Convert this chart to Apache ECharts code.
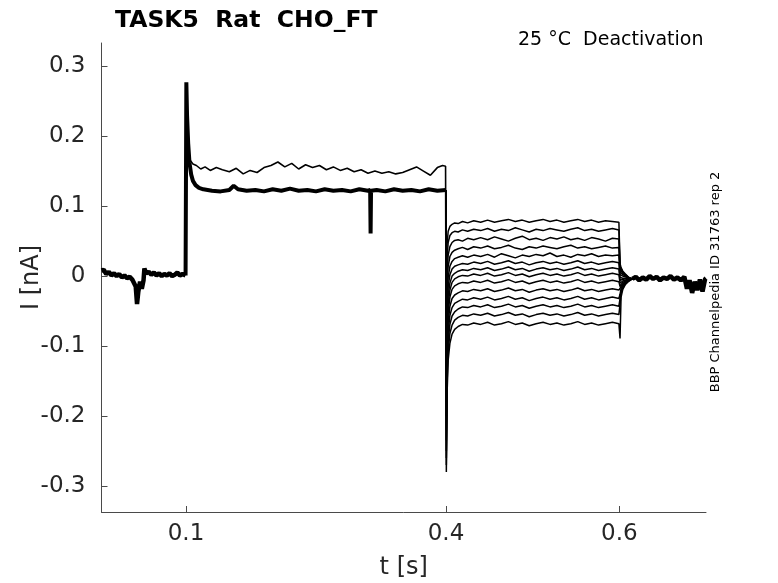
<!DOCTYPE html>
<html>
<head>
<meta charset="utf-8">
<script src="https://cdn.jsdelivr.net/npm/echarts@6/dist/echarts.min.js"></script>
<style>
  html, body { margin: 0; padding: 0; background: #fff; }
  #mainChart { width: 778px; height: 583px; }
</style>
</head>
<body>
<div id="mainChart"></div>
<script>
// tick positions
const xTicks = [0.1, 0.4, 0.6];
const yTicks = [-0.3, -0.2, -0.1, 0, 0.1, 0.2, 0.3];

// holding period before the step (all sweeps overlap)
const baseT = [0.0025, 0.005, 0.008, 0.011, 0.014, 0.017, 0.02, 0.023, 0.026, 0.029, 0.032, 0.035, 0.038, 0.040, 0.042, 0.0435, 0.045, 0.047, 0.049, 0.051, 0.052, 0.054, 0.057, 0.06, 0.063, 0.066, 0.069, 0.072, 0.075, 0.078, 0.081, 0.084, 0.087, 0.09, 0.093, 0.096, 0.0995];
const baseV = [0.008, 0.009, 0.003, 0.006, 0.001, 0.004, 0.0, 0.003, -0.002, 0.001, -0.003, -0.001, -0.005, -0.004, -0.015, -0.040, -0.022, -0.008, -0.018, -0.006, 0.011, 0.004, 0.006, 0.002, 0.005, 0.001, 0.004, 0.0, 0.003, 0.001, 0.004, 0.0, 0.002, 0.005, 0.001, 0.003, 0.001];

// activating pulse, main bundle of sweeps
const pulseT = [0.0995, 0.1, 0.1004, 0.1012, 0.1025, 0.104, 0.106, 0.108, 0.111, 0.115, 0.12, 0.13, 0.14, 0.15, 0.155, 0.16, 0.17, 0.18, 0.19, 0.2, 0.21, 0.22, 0.23, 0.24, 0.25, 0.26, 0.27, 0.28, 0.29, 0.3, 0.31, 0.3125, 0.313, 0.3135, 0.32, 0.33, 0.34, 0.35, 0.36, 0.37, 0.38, 0.39, 0.3998];
const pulseV = [0.001, 0.15, 0.277, 0.23, 0.19, 0.162, 0.145, 0.136, 0.13, 0.126, 0.124, 0.122, 0.121, 0.123, 0.129, 0.124, 0.122, 0.123, 0.121, 0.124, 0.122, 0.125, 0.122, 0.123, 0.121, 0.124, 0.122, 0.123, 0.121, 0.124, 0.122, 0.123, 0.061, 0.122, 0.123, 0.121, 0.124, 0.122, 0.123, 0.121, 0.124, 0.122, 0.123];

// activating pulse, the one sweep running higher
const upperT = [0.1, 0.1004, 0.101, 0.102, 0.103, 0.105, 0.108, 0.112, 0.117, 0.122, 0.128, 0.135, 0.142, 0.15, 0.158, 0.166, 0.174, 0.182, 0.19, 0.198, 0.206, 0.214, 0.222, 0.23, 0.238, 0.246, 0.254, 0.262, 0.27, 0.278, 0.286, 0.294, 0.302, 0.31, 0.318, 0.326, 0.334, 0.342, 0.35, 0.358, 0.366, 0.374, 0.382, 0.39, 0.396, 0.3995, 0.4];
const upperV = [0.002, 0.27, 0.22, 0.19, 0.175, 0.165, 0.16, 0.158, 0.153, 0.156, 0.151, 0.155, 0.152, 0.149, 0.154, 0.146, 0.151, 0.148, 0.155, 0.158, 0.163, 0.156, 0.161, 0.153, 0.159, 0.155, 0.158, 0.152, 0.156, 0.151, 0.154, 0.149, 0.152, 0.147, 0.15, 0.147, 0.149, 0.146, 0.148, 0.152, 0.156, 0.15, 0.144, 0.155, 0.158, 0.157, -0.05];

// deactivation steps (one row per sweep)
const deactT = [0.4, 0.4004, 0.4012, 0.4025, 0.4045, 0.407, 0.41, 0.414, 0.419, 0.425, 0.432, 0.44,
  0.448, 0.456, 0.464, 0.472, 0.48, 0.488, 0.496, 0.504, 0.512, 0.52, 0.528, 0.536, 0.544, 0.552, 0.56, 0.568, 0.576, 0.584, 0.592,
  0.5995, 0.6, 0.6008, 0.602, 0.604, 0.607, 0.611, 0.615];
const sweep01 = [0.123, -0.06, 0.045, 0.064, 0.071, 0.074, 0.076, 0.075, 0.078, 0.076, 0.079, 0.077, 0.080, 0.077, 0.079, 0.081, 0.078, 0.080, 0.077, 0.079, 0.081, 0.078, 0.080, 0.077, 0.079, 0.081, 0.078, 0.080, 0.077, 0.079, 0.078, 0.077, 0.077, 0.018, 0.012, 0.007, 0.003, -0.002, -0.004];
const sweep02 = [0.123, -0.08, 0.025, 0.048, 0.058, 0.062, 0.064, 0.063, 0.066, 0.064, 0.067, 0.065, 0.068, 0.064, 0.067, 0.065, 0.069, 0.066, 0.063, 0.067, 0.065, 0.068, 0.066, 0.064, 0.067, 0.069, 0.065, 0.067, 0.064, 0.066, 0.068, 0.066, 0.066, 0.014, 0.010, 0.006, 0.002, -0.002, -0.004];
const sweep03 = [0.123, -0.10, 0.005, 0.030, 0.042, 0.048, 0.051, 0.052, 0.050, 0.054, 0.052, 0.055, 0.052, 0.056, 0.053, 0.050, 0.054, 0.057, 0.052, 0.054, 0.051, 0.055, 0.053, 0.056, 0.052, 0.054, 0.051, 0.055, 0.053, 0.050, 0.054, 0.053, 0.053, 0.010, 0.008, 0.004, 0.001, -0.003, -0.004];
const sweep04 = [0.123, -0.12, -0.015, 0.014, 0.028, 0.034, 0.037, 0.039, 0.041, 0.038, 0.042, 0.040, 0.043, 0.039, 0.041, 0.044, 0.040, 0.038, 0.042, 0.040, 0.043, 0.041, 0.039, 0.042, 0.044, 0.040, 0.042, 0.039, 0.041, 0.043, 0.040, 0.041, 0.041, 0.006, 0.005, 0.002, 0.0, -0.003, -0.004];
const sweep05 = [0.123, -0.14, -0.035, -0.002, 0.014, 0.021, 0.025, 0.027, 0.029, 0.027, 0.030, 0.028, 0.031, 0.027, 0.032, 0.029, 0.026, 0.030, 0.028, 0.031, 0.029, 0.033, 0.028, 0.030, 0.027, 0.031, 0.029, 0.032, 0.028, 0.030, 0.029, 0.030, 0.030, 0.002, 0.002, 0.0, -0.001, -0.003, -0.004];
const sweep06 = [0.123, -0.16, -0.05, -0.015, 0.002, 0.010, 0.014, 0.016, 0.018, 0.017, 0.020, 0.018, 0.021, 0.017, 0.019, 0.022, 0.018, 0.020, 0.016, 0.019, 0.021, 0.018, 0.020, 0.017, 0.019, 0.022, 0.018, 0.020, 0.017, 0.019, 0.021, 0.019, 0.019, -0.002, -0.002, -0.003, -0.003, -0.004, -0.004];
const sweep07 = [0.123, -0.18, -0.065, -0.028, -0.010, 0.0, 0.004, 0.007, 0.009, 0.008, 0.011, 0.009, 0.012, 0.008, 0.010, 0.013, 0.009, 0.011, 0.007, 0.010, 0.012, 0.009, 0.011, 0.008, 0.010, 0.013, 0.009, 0.011, 0.008, 0.010, 0.012, 0.010, 0.010, -0.006, -0.005, -0.005, -0.004, -0.005, -0.004];
const sweep08 = [0.123, -0.20, -0.08, -0.04, -0.02, -0.009, -0.004, -0.001, 0.001, 0.0, 0.003, 0.001, 0.004, 0.0, 0.002, 0.005, 0.001, 0.003, -0.001, 0.002, 0.004, 0.001, 0.003, 0.0, 0.002, 0.005, 0.001, 0.003, 0.0, 0.002, 0.004, 0.002, 0.002, -0.010, -0.008, -0.007, -0.006, -0.005, -0.004];
const sweep09 = [0.123, -0.22, -0.095, -0.052, -0.03, -0.019, -0.014, -0.011, -0.009, -0.010, -0.007, -0.009, -0.006, -0.010, -0.008, -0.005, -0.009, -0.007, -0.011, -0.008, -0.006, -0.009, -0.007, -0.010, -0.008, -0.005, -0.009, -0.007, -0.010, -0.008, -0.006, -0.008, -0.008, -0.015, -0.012, -0.009, -0.007, -0.005, -0.004];
const sweep10 = [0.123, -0.235, -0.11, -0.066, -0.043, -0.032, -0.027, -0.024, -0.021, -0.022, -0.019, -0.021, -0.018, -0.022, -0.020, -0.017, -0.021, -0.019, -0.023, -0.020, -0.018, -0.021, -0.019, -0.022, -0.020, -0.017, -0.021, -0.019, -0.022, -0.020, -0.018, -0.020, -0.020, -0.020, -0.015, -0.011, -0.008, -0.006, -0.004];
const sweep11 = [0.123, -0.25, -0.125, -0.08, -0.056, -0.045, -0.039, -0.036, -0.033, -0.034, -0.031, -0.033, -0.030, -0.034, -0.032, -0.029, -0.033, -0.031, -0.035, -0.032, -0.030, -0.033, -0.031, -0.034, -0.032, -0.029, -0.033, -0.031, -0.034, -0.032, -0.030, -0.032, -0.032, -0.026, -0.018, -0.013, -0.009, -0.006, -0.004];
const sweep12 = [0.123, -0.26, -0.14, -0.093, -0.069, -0.057, -0.051, -0.047, -0.044, -0.045, -0.042, -0.044, -0.041, -0.045, -0.043, -0.040, -0.044, -0.042, -0.046, -0.043, -0.041, -0.044, -0.042, -0.045, -0.043, -0.040, -0.044, -0.042, -0.045, -0.043, -0.041, -0.043, -0.043, -0.032, -0.021, -0.015, -0.010, -0.006, -0.004];
const sweep13 = [0.123, -0.27, -0.155, -0.107, -0.082, -0.07, -0.063, -0.059, -0.056, -0.057, -0.054, -0.056, -0.053, -0.057, -0.055, -0.052, -0.056, -0.054, -0.058, -0.055, -0.053, -0.056, -0.054, -0.057, -0.055, -0.052, -0.056, -0.054, -0.057, -0.055, -0.053, -0.055, -0.055, -0.040, -0.024, -0.017, -0.011, -0.007, -0.004];
const sweep14 = [0.123, -0.28, -0.17, -0.12, -0.096, -0.083, -0.076, -0.072, -0.069, -0.070, -0.067, -0.069, -0.066, -0.070, -0.068, -0.065, -0.069, -0.067, -0.071, -0.068, -0.066, -0.069, -0.067, -0.070, -0.068, -0.065, -0.069, -0.067, -0.070, -0.068, -0.066, -0.068, -0.068, -0.089, -0.030, -0.019, -0.012, -0.007, -0.004];
const sweeps = [sweep01, sweep02, sweep03, sweep04, sweep05, sweep06, sweep07, sweep08, sweep09, sweep10, sweep11, sweep12, sweep13, sweep14];

// back at holding potential (all sweeps overlap)
const tailT = [0.615, 0.619, 0.623, 0.627, 0.631, 0.635, 0.639, 0.643, 0.647, 0.651, 0.655, 0.659, 0.663, 0.667, 0.671, 0.675, 0.678, 0.681, 0.684, 0.687, 0.69, 0.693, 0.696, 0.699, 0.7];
const tailV = [-0.004, -0.001, -0.006, -0.002, -0.005, 0.0, -0.004, -0.001, -0.006, -0.002, -0.004, 0.0, -0.005, -0.002, -0.006, -0.001, -0.018, -0.006, -0.024, -0.008, -0.02, -0.005, -0.022, -0.004, -0.003];

const pairs = (ts, vs) => ts.map((t, i) => [t, vs[i]]);
const line = (data, width) => ({
    type: 'line', data, showSymbol: false, symbol: 'none', silent: true,
    lineStyle: { color: '#000', width }, z: 3
});

const chart = echarts.init(document.getElementById('mainChart'), null, { renderer: 'canvas' });
const font = 'DejaVu Sans';
const axisCol = '#4a4a4a';

const option = {
    animation: false,
    backgroundColor: '#fff',
    title: {
        text: 'TASK5  Rat  CHO_FT', left: 110, top: 4,
        textStyle: { fontFamily: font, fontSize: 23.5, fontWeight: 'bold', color: '#000' }
    },
    graphic: [
        { type: 'text', left: 518, top: 31, style: { text: '25 °C  Deactivation', font: `19px "${font}"`, fill: '#000' } },
        { type: 'text', x: 716, y: 282, rotation: Math.PI / 2,
          style: { text: 'BBP Channelpedia ID 31763 rep 2', font: `13px "${font}"`, fill: '#000', align: 'center', verticalAlign: 'middle' } }
    ],
    grid: { left: 101.5, right: 72, top: 43, bottom: 71, outerBoundsMode: 'none' },
    xAxis: {
        type: 'value', min: 0.0025, max: 0.7,
        name: 't [s]', nameLocation: 'middle', nameGap: 44, nameMoveOverlap: false,
        nameTextStyle: { fontFamily: font, fontSize: 24, color: '#262626' },
        axisLine: { onZero: false, lineStyle: { color: axisCol, width: 1 } },
        axisTick: { inside: true, length: 6, customValues: xTicks, lineStyle: { color: axisCol } },
        axisLabel: { customValues: xTicks, margin: 11, fontFamily: font, fontSize: 23, color: '#262626',
                     formatter: v => v.toFixed(1) },
        splitLine: { show: false }
    },
    yAxis: {
        type: 'value', min: -0.337, max: 0.333,
        name: 'I [nA]', nameLocation: 'middle', nameGap: 58, nameRotate: 90, nameMoveOverlap: false,
        nameTextStyle: { fontFamily: font, fontSize: 24, color: '#262626' },
        axisLine: { show: true, onZero: false, lineStyle: { color: axisCol, width: 1 } },
        axisTick: { show: true, inside: true, length: 6, customValues: yTicks, lineStyle: { color: axisCol } },
        axisLabel: { customValues: yTicks, margin: 16, fontFamily: font, fontSize: 23, color: '#262626',
                     formatter: v => (Math.abs(v) < 1e-9 ? '0' : v.toFixed(1)) },
        splitLine: { show: false }
    },
    series: [
        line(pairs(baseT, baseV), 4.5),
        line(pairs(pulseT, pulseV), 4),
        line(pairs(upperT, upperV), 1.6),
        ...sweeps.map(s => line(pairs(deactT, s), 1.5)),
        line(pairs(tailT, tailV), 4.5)
    ]
};

chart.setOption(option);
</script>
</body>
</html>
